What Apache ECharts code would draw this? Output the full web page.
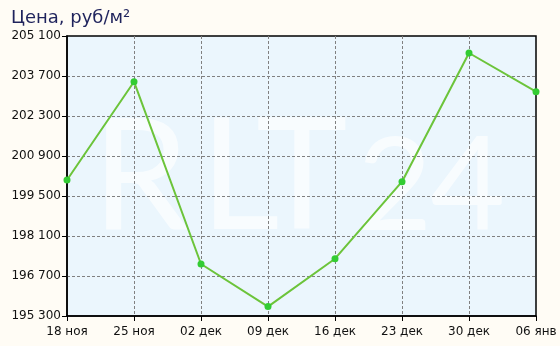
<!DOCTYPE html>
<html><head><meta charset="utf-8">
<script src="https://cdn.jsdelivr.net/npm/echarts@6/dist/echarts.min.js"></script>
<style>html,body{margin:0;padding:0;background:#fffcf5}#c{width:560px;height:346px}</style>
</head><body><div id="c"></div>
<script>
const categories = ['18 ноя','25 ноя','02 дек','09 дек','16 дек','23 дек','30 дек','06 янв'];
const prices = [200060, 203500, 197120, 195630, 197305, 200000, 204505, 203150];
const yMin = 195300, yMax = 205100, yStep = 1400;
const title = 'Цена, руб/м²';
const watermark = ['R','L','T','2','4'];

const G = {left:67, top:36, right:24, bottom:30};
const W = 560, H = 346;
const fontFam = '"DejaVu Sans", Verdana, sans-serif';
const wmFont = 'Lato, "DejaVu Sans", sans-serif';
const wmX = [92, 200, 256, 357, 430];
const wmSize = [155, 155, 155, 130, 130];
const wmBase = 232;

const chart = echarts.init(document.getElementById('c'), null, {renderer:'canvas'});
const graphics = [
  {type:'rect', z:-10, silent:true,
   shape:{x:G.left, y:G.top, width:W-G.left-G.right, height:H-G.top-G.bottom},
   style:{fill:'#ebf6fd'}}
];
watermark.forEach((ch,i)=>{
  const s = wmSize[i];
  graphics.push({type:'text', z:-5, silent:true, x:wmX[i], y:wmBase + s*25/155,
    style:{text:ch, fill:'rgba(255,255,255,0.65)', font:'400 '+s+'px '+wmFont,
      verticalAlign:'bottom'}});
});
chart.setOption({
  backgroundColor:'#fffcf5',
  animation:false,
  title:{text:title, left:6, top:4,
    textStyle:{fontFamily:fontFam, fontSize:18, fontWeight:'normal', color:'#1f235c'}},
  graphic: graphics,
  grid:{left:G.left, top:G.top, right:G.right, bottom:G.bottom, show:true,
    backgroundColor:'transparent', borderColor:'#000', borderWidth:1.5},
  xAxis:{type:'category', data:categories, boundaryGap:false,
    axisLine:{lineStyle:{color:'#000', width:1.5}},
    axisTick:{show:true, length:5, lineStyle:{color:'#000'}},
    axisLabel:{color:'#111', fontFamily:fontFam, fontSize:12, margin:10, interval:0},
    splitLine:{show:true, showMinLine:false, showMaxLine:false,
      lineStyle:{color:'#808080', type:[3,2], width:1}}},
  yAxis:{type:'value', min:yMin, max:yMax, interval:yStep,
    axisLine:{show:true, lineStyle:{color:'#000', width:1.5}},
    axisTick:{show:true, length:5, lineStyle:{color:'#000'}},
    axisLabel:{color:'#111', fontFamily:fontFam, fontSize:12, margin:6,
      formatter:v=>String(v).replace(/\B(?=(\d{3})+(?!\d))/g,' ')},
    splitLine:{show:true, showMinLine:false, showMaxLine:false,
      lineStyle:{color:'#808080', type:[3,2], width:1}}},
  series:[{type:'line', data:prices, symbol:'circle', symbolSize:7,
    lineStyle:{color:'#6cc43a', width:2},
    itemStyle:{color:'#33cc33', borderWidth:0}}]
});
</script></body></html>
